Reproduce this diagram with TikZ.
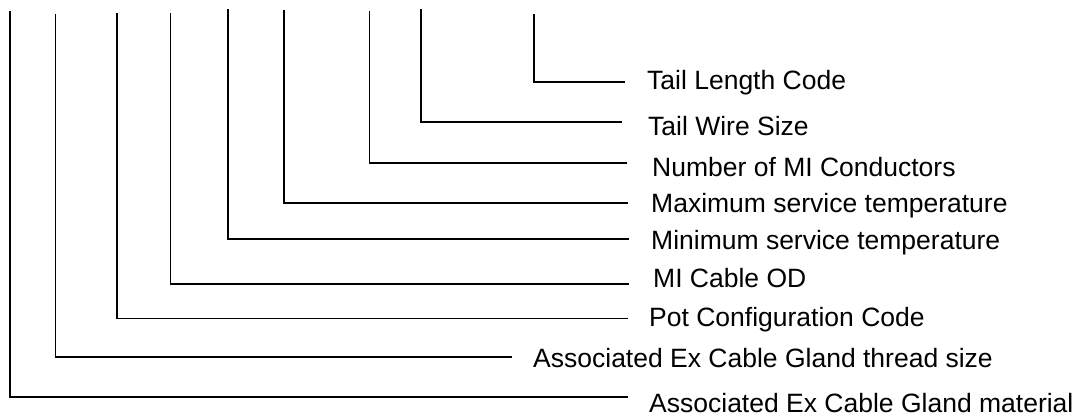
\documentclass[tikz,border=0pt]{standalone}
\usepackage{fontspec}
\setmainfont{Liberation Sans}
\begin{document}
\begin{tikzpicture}[x=1pt,y=-1pt,
  lbl/.style={anchor=base west,inner sep=0pt,font=\fontsize{26.5}{30}\selectfont},
  lead/.style={draw=black,line width=1.5pt}]
\useasboundingbox (0,0) rectangle (1081,416);
% top ends of the leaders
\coordinate (t1) at (10,11);
\coordinate (t2) at (55.5,14);
\coordinate (t3) at (117,13);
\coordinate (t4) at (170.5,13);
\coordinate (t5) at (228,9);
\coordinate (t6) at (284,10);
\coordinate (t7) at (369.5,11);
\coordinate (t8) at (421,9);
\coordinate (t9) at (534,14);
% right ends of the leaders
\coordinate (e1) at (628,397);
\coordinate (e2) at (512,357);
\coordinate (e3) at (628,318.5);
\coordinate (e4) at (629,284);
\coordinate (e5) at (629,239);
\coordinate (e6) at (628,203);
\coordinate (e7) at (627,163);
\coordinate (e8) at (622,122);
\coordinate (e9) at (625,82);
% labels
\node[lbl] (l9) at (647,89) {Tail Length Code};
\node[lbl] (l8) at (648,135) {Tail Wire Size};
\node[lbl] (l7) at (652,176) {Number of MI Conductors};
\node[lbl] (l6) at (651,212) {Maximum service temperature};
\node[lbl] (l5) at (651,249) {Minimum service temperature};
\node[lbl] (l4) at (653,287) {MI Cable OD};
\node[lbl] (l3) at (649,326) {Pot Configuration Code};
\node[lbl] (l2) at (533,367) {Associated Ex Cable Gland thread size};
\node[lbl] (l1) at (649,412) {Associated Ex Cable Gland material};
% leaders
\foreach \i in {1,...,9} {\draw[lead] (t\i) |- (e\i);}
\end{tikzpicture}
\end{document}
